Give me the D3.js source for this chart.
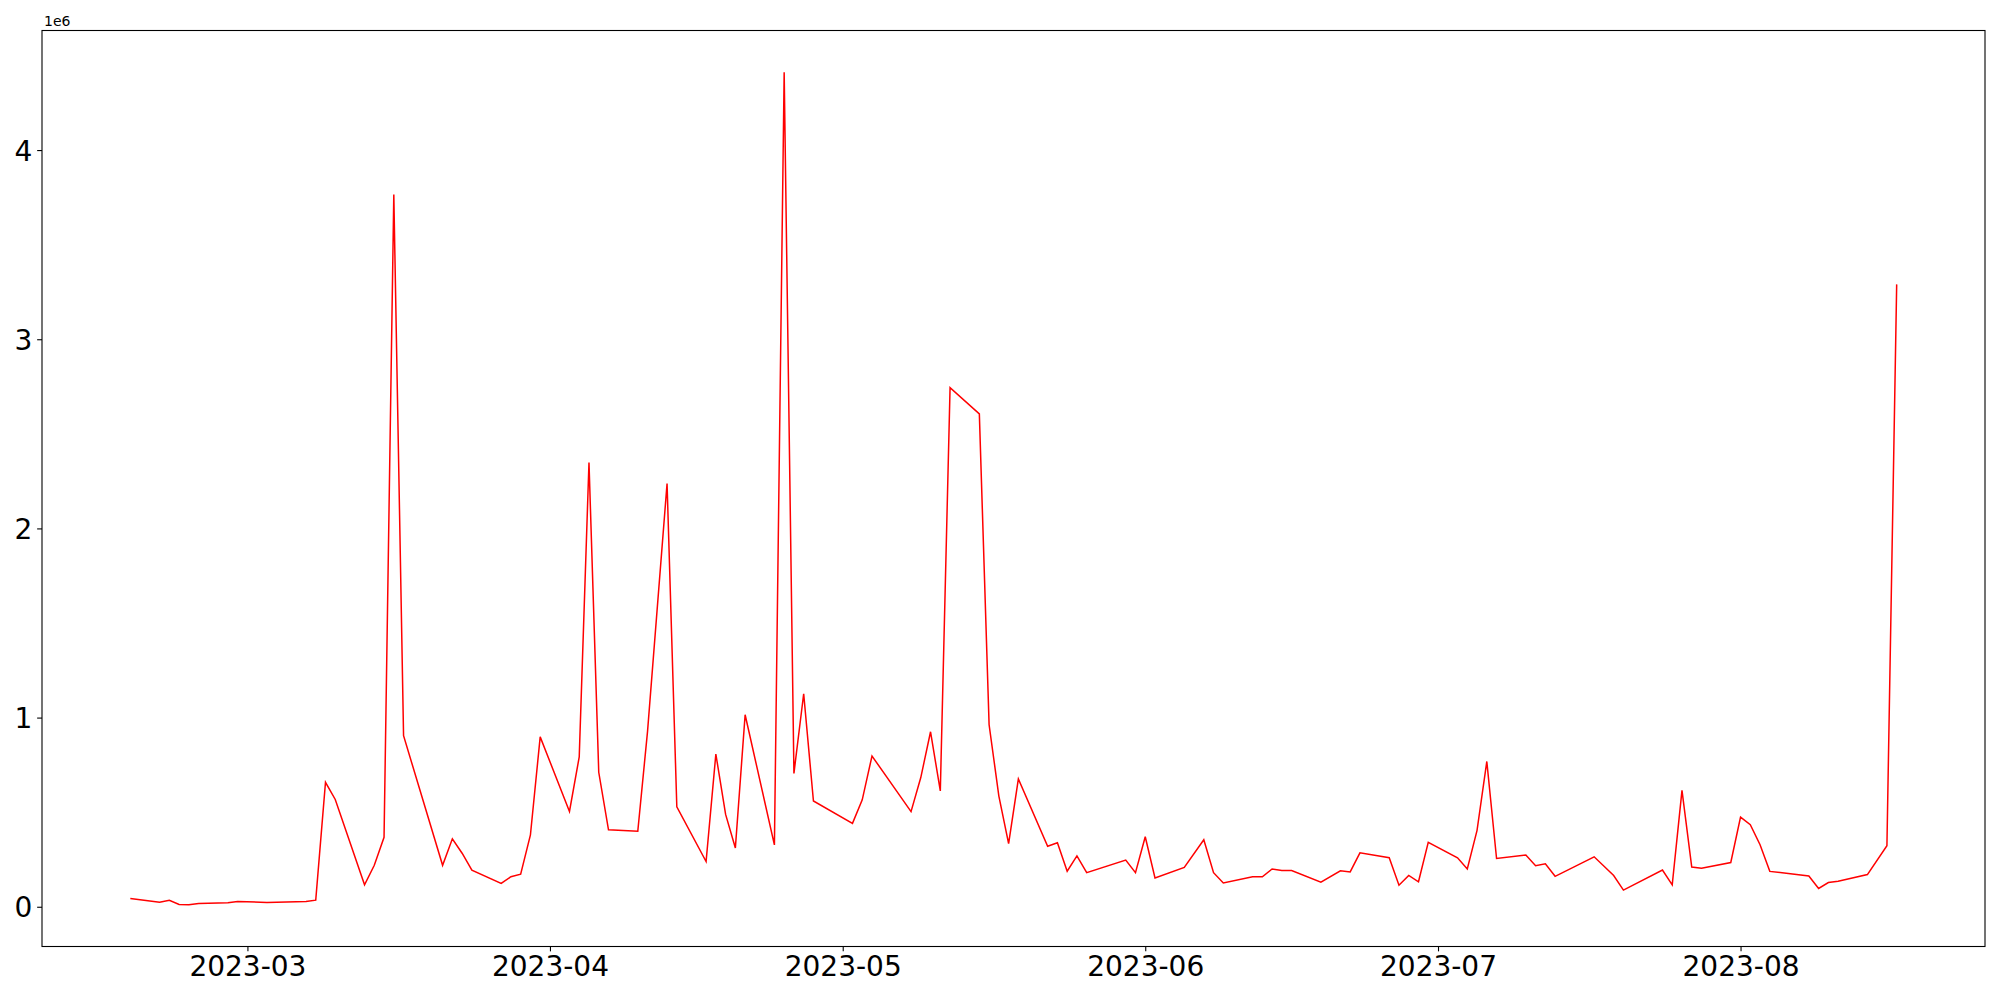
<!DOCTYPE html>
<html>
<head>
<meta charset="utf-8">
<script src="https://cdn.jsdelivr.net/npm/d3@7"></script>
<style>
  html, body { margin: 0; padding: 0; background: #fff; }
  svg { display: block; }
  text { font-family: "DejaVu Sans", sans-serif; }
</style>
</head>
<body>
<svg id="chart" width="2000" height="1000"></svg>
<script>
// ---- data ----
const dates = [
  "2023-02-17","2023-02-20","2023-02-21","2023-02-22","2023-02-23","2023-02-24",
  "2023-02-27","2023-02-28","2023-03-03","2023-03-07","2023-03-08","2023-03-09",
  "2023-03-10","2023-03-13","2023-03-14","2023-03-15","2023-03-16","2023-03-17",
  "2023-03-21","2023-03-22","2023-03-23","2023-03-24","2023-03-27","2023-03-28",
  "2023-03-29","2023-03-30","2023-03-31","2023-04-03","2023-04-04","2023-04-05",
  "2023-04-06","2023-04-07","2023-04-10","2023-04-11","2023-04-13","2023-04-14",
  "2023-04-17","2023-04-18","2023-04-19","2023-04-20","2023-04-21","2023-04-24",
  "2023-04-25","2023-04-26","2023-04-27","2023-04-28","2023-05-02","2023-05-03",
  "2023-05-04","2023-05-08","2023-05-09","2023-05-10","2023-05-11","2023-05-12",
  "2023-05-15","2023-05-16","2023-05-17","2023-05-18","2023-05-19","2023-05-22",
  "2023-05-23","2023-05-24","2023-05-25","2023-05-26","2023-05-30","2023-05-31",
  "2023-06-01","2023-06-02","2023-06-05","2023-06-07","2023-06-08","2023-06-09",
  "2023-06-12","2023-06-13","2023-06-14","2023-06-15","2023-06-16","2023-06-19",
  "2023-06-21","2023-06-22","2023-06-23","2023-06-26","2023-06-27","2023-06-28",
  "2023-06-29","2023-06-30","2023-07-03","2023-07-04","2023-07-05","2023-07-06",
  "2023-07-07","2023-07-10","2023-07-11","2023-07-12","2023-07-13","2023-07-17",
  "2023-07-19","2023-07-20","2023-07-24","2023-07-25","2023-07-26","2023-07-27",
  "2023-07-28","2023-07-31","2023-08-01","2023-08-02","2023-08-03","2023-08-04",
  "2023-08-08","2023-08-09","2023-08-10","2023-08-11","2023-08-14","2023-08-16",
  "2023-08-17"
];
const values = [
  44000, 24000, 34000, 12000, 10000, 17000,
  21000, 28000, 23000, 28000, 35000, 658000,
  567000, 116000, 219000, 367000, 3765000, 904000,
  219000, 359000, 283000, 193000, 123000, 159000,
  172000, 380000, 898000, 504000, 792000, 2348000,
  711000, 407000, 399000, 927000, 2237000, 528000,
  239000, 807000, 488000, 311000, 1015000, 327000,
  4412000, 705000, 1126000, 559000, 441000, 565000,
  797000, 503000, 683000, 925000, 612000, 2744000,
  2605000, 962000, 585000, 334000, 676000, 320000,
  338000, 188000, 269000, 180000, 247000, 180000,
  370000, 152000, 208000, 354000, 180000, 126000,
  158000, 158000, 200000, 192000, 192000, 130000,
  190000, 184000, 285000, 259000, 114000, 166000,
  132000, 341000, 259000, 200000, 404000, 768000,
  255000, 274000, 217000, 227000, 161000, 264000,
  165000, 88000, 194000, 116000, 615000, 210000,
  203000, 234000, 474000, 434000, 328000, 187000,
  163000, 97000, 128000, 135000, 170000, 323000,
  3290000
];
const yTickValues = [0, 1000000, 2000000, 3000000, 4000000];
const yOffsetLabel = "1e6";
const xTickFormat = "%Y-%m";

// ---- layout ----
const W = 2000, H = 1000;
const margin = { left: 42, right: 15, top: 30.5, bottom: 53.5 };
const plotW = W - margin.left - margin.right;
const plotH = H - margin.top - margin.bottom;

const parse = d3.utcParse("%Y-%m-%d");
const data = dates.map((d, i) => ({ date: parse(d), value: values[i] }));

// matplotlib-style 5% margins
const xExt = d3.extent(data, d => d.date);
const xPad = (xExt[1] - xExt[0]) * 0.05;
const yExt = d3.extent(data, d => d.value);
const yPad = (yExt[1] - yExt[0]) * 0.05;

const x = d3.scaleUtc()
  .domain([new Date(+xExt[0] - xPad), new Date(+xExt[1] + xPad)])
  .range([margin.left, margin.left + plotW]);
const y = d3.scaleLinear()
  .domain([yExt[0] - yPad, yExt[1] + yPad])
  .range([margin.top + plotH, margin.top]);

const svg = d3.select("#chart");
svg.append("rect").attr("width", W).attr("height", H).attr("fill", "#fff");

// line
const line = d3.line().x(d => x(d.date)).y(d => y(d.value));
svg.append("path")
  .datum(data)
  .attr("fill", "none")
  .attr("stroke", "#ff0000")
  .attr("stroke-width", 1.5)
  .attr("stroke-linejoin", "miter")
  .attr("d", line);

// axes
const tickLen = 4.86, tickPad = 4.86;
const xTicks = d3.utcMonth.range(x.domain()[0], x.domain()[1]);
const xAxis = d3.axisBottom(x)
  .tickValues(xTicks)
  .tickFormat(d3.utcFormat(xTickFormat))
  .tickSize(tickLen)
  .tickPadding(tickPad);
const gx = svg.append("g")
  .attr("transform", `translate(0,${margin.top + plotH})`)
  .call(xAxis);
gx.select(".domain").remove();
gx.selectAll(".tick line").attr("stroke", "#000").attr("stroke-width", 1.1);
gx.selectAll(".tick text")
  .attr("fill", "#000")
  .attr("font-size", 28)
  .attr("font-family", "DejaVu Sans")
  .attr("dy", "0.72em");

const yAxis = d3.axisLeft(y)
  .tickValues(yTickValues)
  .tickFormat(d => String(d / 1e6))
  .tickSize(tickLen)
  .tickPadding(tickPad);
const gy = svg.append("g")
  .attr("transform", `translate(${margin.left},0)`)
  .call(yAxis);
gy.select(".domain").remove();
gy.selectAll(".tick line").attr("stroke", "#000").attr("stroke-width", 1.1);
gy.selectAll(".tick text")
  .attr("fill", "#000")
  .attr("font-size", 28)
  .attr("font-family", "DejaVu Sans")
  .attr("dy", "0.36em");

// offset text
svg.append("text")
  .attr("x", margin.left + 2)
  .attr("y", margin.top - 4.5)
  .attr("font-size", 14)
  .attr("font-family", "DejaVu Sans")
  .attr("fill", "#000")
  .text(yOffsetLabel);

// frame
svg.append("rect")
  .attr("x", margin.left)
  .attr("y", margin.top)
  .attr("width", plotW)
  .attr("height", plotH)
  .attr("fill", "none")
  .attr("stroke", "#000")
  .attr("stroke-width", 1.1);
</script>
</body>
</html>
